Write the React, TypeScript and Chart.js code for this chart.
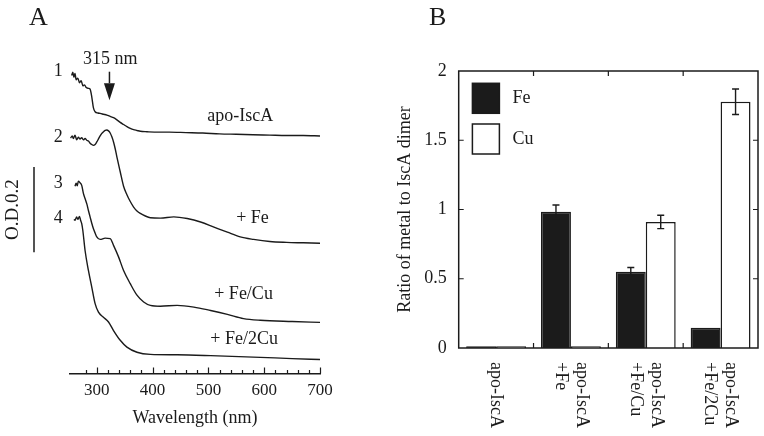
import React, { useEffect, useRef } from "react";
import { Chart, registerables } from "chart.js";

Chart.register(...registerables);

const SERIF = "'Liberation Serif', 'Times New Roman', Times, serif";
const INK = "#1b1b1b";

Chart.defaults.font.family = SERIF;
Chart.defaults.color = INK;

// ---------------- Panel A : UV-visible spectra ----------------
const WL_MIN = 252;
const WL_MAX = 700;
const WL_STEP = 20;
const WL_LABEL_STEP = 100;
const OD_MIN = 0;
const OD_MAX = 0.7835;

const APO_WL = [255, 257, 259, 261, 263, 266, 269, 272, 275, 278, 281, 285, 288, 291, 294, 297, 302, 306, 312, 318, 324, 330, 336, 342, 348, 354, 360, 366, 372, 378, 390, 410, 430, 460, 490, 520, 550, 580, 610, 640, 670, 700];
const APO_OD = [0.700, 0.708, 0.696, 0.705, 0.690, 0.694, 0.683, 0.688, 0.676, 0.678, 0.672, 0.670, 0.668, 0.650, 0.624, 0.615, 0.612, 0.611, 0.609, 0.607, 0.604, 0.601, 0.596, 0.590, 0.585, 0.580, 0.576, 0.573, 0.571, 0.569, 0.568, 0.567, 0.567, 0.566, 0.565, 0.563, 0.562, 0.561, 0.560, 0.559, 0.559, 0.558];

const FE_WL = [253, 256, 258, 261, 264, 267, 270, 273, 276, 279, 282, 285, 288, 291, 294, 297, 300, 303, 306, 309, 312, 315, 318, 321, 324, 327, 330, 333, 336, 342, 348, 354, 360, 366, 372, 378, 387, 396, 414, 438, 462, 486, 510, 534, 557, 581, 610, 640, 670, 700];
const FE_OD = [0.553, 0.558, 0.552, 0.560, 0.549, 0.555, 0.551, 0.554, 0.549, 0.552, 0.548, 0.546, 0.541, 0.538, 0.536, 0.538, 0.544, 0.551, 0.558, 0.564, 0.568, 0.571, 0.572, 0.570, 0.565, 0.556, 0.544, 0.528, 0.509, 0.474, 0.440, 0.420, 0.404, 0.391, 0.382, 0.376, 0.370, 0.366, 0.365, 0.368, 0.364, 0.356, 0.344, 0.332, 0.321, 0.315, 0.310, 0.308, 0.307, 0.306];

const FECU_WL = [261, 263, 265, 267, 270, 273, 276, 279, 282, 285, 288, 291, 294, 297, 300, 306, 315, 324, 330, 339, 348, 360, 372, 384, 396, 414, 444, 474, 504, 534, 563, 593, 650, 700];
const FECU_OD = [0.440, 0.447, 0.441, 0.452, 0.448, 0.442, 0.423, 0.411, 0.399, 0.383, 0.368, 0.353, 0.340, 0.330, 0.321, 0.315, 0.318, 0.317, 0.301, 0.274, 0.242, 0.211, 0.184, 0.168, 0.160, 0.158, 0.160, 0.156, 0.148, 0.139, 0.129, 0.125, 0.122, 0.120];

const FE2CU_WL = [259, 261, 264, 266, 269, 271, 273, 275, 279, 285, 291, 297, 303, 312, 321, 330, 342, 354, 372, 396, 444, 504, 593, 650, 700];
const FE2CU_OD = [0.362, 0.360, 0.368, 0.362, 0.369, 0.360, 0.352, 0.336, 0.289, 0.242, 0.203, 0.164, 0.144, 0.132, 0.121, 0.101, 0.078, 0.062, 0.050, 0.045, 0.044, 0.042, 0.038, 0.035, 0.033];

const TRACE_NUMBERS = ["1", "2", "3", "4"];
const TRACE_NUMBER_WL = 231;
const TRACE_NUMBER_OD = [0.711, 0.555, 0.447, 0.365];
const TRACE_NAMES = ["apo-IscA", "+ Fe", "+ Fe/Cu", "+ Fe/2Cu"];
const TRACE_NAME_WL = [557, 579, 563, 564];
const TRACE_NAME_OD = [0.605, 0.365, 0.186, 0.080];
const PEAK_LABEL = "315 nm";
const PEAK_LABEL_WL = 324;
const PEAK_LABEL_OD = 0.739;
const ARROW_WL = 322.7;
const ARROW_OD = [0.709, 0.682, 0.642]; // shaft top, head base, tip
const SCALE_BAR_OD = [0.285, 0.485];
const SCALE_BAR_LABEL = "O.D.0.2";
const X_TITLE_A = "Wavelength (nm)";

// ---------------- Panel B : metal content ----------------
const GROUPS = [["apo-IscA"], ["apo-IscA", "+Fe"], ["apo-IscA", "+Fe/Cu"], ["apo-IscA", "+Fe/2Cu"]];
const SERIES_NAMES = ["Fe", "Cu"];
const FE_RATIO = [0.012, 0.983, 0.551, 0.147];
const FE_ERR = [0, 0.05, 0.03, 0];
const CU_RATIO = [0.012, 0.012, 0.91, 1.778];
const CU_ERR = [0, 0, 0.048, 0.092];
const RATIO_MIN = 0;
const RATIO_MAX = 2;
const RATIO_STEP = 0.5;
const Y_TITLE_B = "Ratio of metal to IscA dimer";

const toPts = (xs: number[], ys: number[]) => xs.map((x, i) => ({ x, y: ys[i] }));

const annotA = {
  id: "annotA",
  afterDraw(chart: any) {
    const { ctx, chartArea: a, scales } = chart;
    const x = scales.x;
    const y = scales.y;
    ctx.save();
    ctx.fillStyle = INK;
    ctx.strokeStyle = INK;
    // inward x ticks
    ctx.lineWidth = 1.2;
    ctx.beginPath();
    x.ticks.forEach((t: any) => {
      if (Math.abs(t.value % WL_STEP) > 1e-6) return;
      const px = Math.round(x.getPixelForValue(t.value)) + 0.5;
      const len = t.value % WL_LABEL_STEP === 0 ? 6 : 3.5;
      ctx.moveTo(px, a.bottom);
      ctx.lineTo(px, a.bottom - len);
    });
    ctx.stroke();

    ctx.font = `18px ${SERIF}`;
    ctx.textBaseline = "middle";
    ctx.textAlign = "center";
    TRACE_NUMBERS.forEach((n, i) => {
      ctx.fillText(n, x.getPixelForValue(TRACE_NUMBER_WL), y.getPixelForValue(TRACE_NUMBER_OD[i]));
    });
    TRACE_NAMES.forEach((n, i) => {
      ctx.fillText(n, x.getPixelForValue(TRACE_NAME_WL[i]), y.getPixelForValue(TRACE_NAME_OD[i]));
    });
    ctx.fillText(PEAK_LABEL, x.getPixelForValue(PEAK_LABEL_WL), y.getPixelForValue(PEAK_LABEL_OD));

    // arrow
    const ax = x.getPixelForValue(ARROW_WL);
    ctx.lineWidth = 1.5;
    ctx.beginPath();
    ctx.moveTo(ax, y.getPixelForValue(ARROW_OD[0]));
    ctx.lineTo(ax, y.getPixelForValue(ARROW_OD[1]));
    ctx.stroke();
    ctx.beginPath();
    ctx.moveTo(ax - 5.5, y.getPixelForValue(ARROW_OD[1]));
    ctx.lineTo(ax + 5.5, y.getPixelForValue(ARROW_OD[1]));
    ctx.lineTo(ax, y.getPixelForValue(ARROW_OD[2]));
    ctx.closePath();
    ctx.fill();

    // scale bar
    const sx = a.left - 36;
    const sy0 = y.getPixelForValue(SCALE_BAR_OD[0]);
    const sy1 = y.getPixelForValue(SCALE_BAR_OD[1]);
    ctx.lineWidth = 1.5;
    ctx.beginPath();
    ctx.moveTo(sx, sy0);
    ctx.lineTo(sx, sy1);
    ctx.stroke();
    ctx.save();
    ctx.translate(sx - 20.5, (sy0 + sy1) / 2);
    ctx.rotate(-Math.PI / 2);
    ctx.font = `19px ${SERIF}`;
    ctx.fillText(SCALE_BAR_LABEL, 0, 0);
    ctx.restore();

    // panel letter
    ctx.font = `26px ${SERIF}`;
    ctx.textAlign = "left";
    ctx.textBaseline = "alphabetic";
    ctx.fillText("A", 29, 25);
    ctx.restore();
  },
};

const decorB = {
  id: "decorB",
  afterDatasetsDraw(chart: any) {
    const { ctx, chartArea: a, scales } = chart;
    const x = scales.x;
    const y = scales.y;
    const errs = [FE_ERR, CU_ERR];
    ctx.save();
    ctx.strokeStyle = INK;
    ctx.fillStyle = INK;
    // error bars
    chart.data.datasets.forEach((ds: any, d: number) => {
      const meta = chart.getDatasetMeta(d);
      meta.data.forEach((bar: any, i: number) => {
        const e = errs[d][i];
        if (!e) return;
        const v = ds.data[i];
        const xc = bar.x;
        const yt = y.getPixelForValue(v + e);
        const yb = y.getPixelForValue(v - e);
        ctx.lineWidth = 1.4;
        ctx.beginPath();
        ctx.moveTo(xc, yt);
        ctx.lineTo(xc, yb);
        ctx.moveTo(xc - 3.5, yt);
        ctx.lineTo(xc + 3.5, yt);
        ctx.moveTo(xc - 3.5, yb);
        ctx.lineTo(xc + 3.5, yb);
        ctx.stroke();
      });
    });
    // frame
    ctx.lineWidth = 1.5;
    ctx.strokeRect(a.left, a.top, a.right - a.left, a.bottom - a.top);
    // inward ticks
    ctx.lineWidth = 1.2;
    ctx.beginPath();
    y.ticks.forEach((t: any) => {
      if (t.value <= RATIO_MIN || t.value >= RATIO_MAX) return;
      const py = y.getPixelForValue(t.value);
      ctx.moveTo(a.left, py);
      ctx.lineTo(a.left + 5, py);
      ctx.moveTo(a.right, py);
      ctx.lineTo(a.right - 5, py);
    });
    for (let i = 0; i < GROUPS.length - 1; i++) {
      const px = (x.getPixelForValue(i) + x.getPixelForValue(i + 1)) / 2;
      ctx.moveTo(px, a.top);
      ctx.lineTo(px, a.top + 5);
      ctx.moveTo(px, a.bottom);
      ctx.lineTo(px, a.bottom - 5);
    }
    ctx.stroke();

    // legend
    chart.data.datasets.forEach((ds: any, d: number) => {
      const bx = a.left + 13.7;
      const by = a.top + 12.3 + d * 40.7;
      ctx.fillStyle = ds.backgroundColor;
      ctx.fillRect(bx, by, 27, 30);
      ctx.lineWidth = 1.5;
      ctx.strokeStyle = INK;
      ctx.strokeRect(bx, by, 27, 30);
      ctx.fillStyle = INK;
      ctx.font = `18px ${SERIF}`;
      ctx.textAlign = "left";
      ctx.textBaseline = "middle";
      ctx.fillText(ds.label, a.left + 53.7, by + 15);
    });

    // rotated category labels
    ctx.fillStyle = INK;
    ctx.font = `18px ${SERIF}`;
    ctx.textAlign = "left";
    ctx.textBaseline = "middle";
    const lh = 21;
    (chart.data.labels as string[][]).forEach((lines, i) => {
      const cx = x.getPixelForValue(i);
      ctx.save();
      ctx.translate(cx, a.bottom + 14);
      ctx.rotate(Math.PI / 2);
      const off = ((lines.length - 1) * lh) / 2;
      lines.forEach((ln, j) => {
        ctx.fillText(ln, 0, -off + j * lh);
      });
      ctx.restore();
    });

    ctx.font = `26px ${SERIF}`;
    ctx.textBaseline = "alphabetic";
    ctx.fillText("B", 49, 25);
    ctx.restore();
  },
};

export default function App() {
  const refA = useRef<HTMLCanvasElement | null>(null);
  const refB = useRef<HTMLCanvasElement | null>(null);

  useEffect(() => {
    const lineDs = (xs: number[], ys: number[], label: string) => ({
      label,
      data: toPts(xs, ys),
      borderColor: INK,
      borderWidth: 1.4,
      pointRadius: 0,
      fill: false,
      cubicInterpolationMode: "monotone" as const,
    });
    const chartA = new Chart(refA.current as HTMLCanvasElement, {
      type: "line",
      data: {
        datasets: [
          lineDs(APO_WL, APO_OD, TRACE_NAMES[0]),
          lineDs(FE_WL, FE_OD, TRACE_NAMES[1]),
          lineDs(FECU_WL, FECU_OD, TRACE_NAMES[2]),
          lineDs(FE2CU_WL, FE2CU_OD, TRACE_NAMES[3]),
        ],
      },
      options: {
        animation: false,
        responsive: false,
        maintainAspectRatio: false,
        layout: { padding: { left: 70, right: 60, top: 40, bottom: 6.5 } },
        plugins: { legend: { display: false }, tooltip: { enabled: false } },
        scales: {
          x: {
            type: "linear",
            min: WL_MIN,
            max: WL_MAX,
            grid: { display: false, drawTicks: false },
            border: { display: true, color: INK, width: 1.5 },
            ticks: {
              stepSize: WL_STEP,
              autoSkip: false,
              maxRotation: 0,
              padding: 7,
              color: INK,
              font: { family: SERIF, size: 17 },
              callback: (v: any) => (Number(v) % WL_LABEL_STEP === 0 ? String(v) : ""),
            },
            title: {
              display: true,
              text: X_TITLE_A,
              color: INK,
              font: { family: SERIF, size: 18 },
              padding: { top: 0, bottom: 0 },
            },
          },
          y: { type: "linear", display: false, min: OD_MIN, max: OD_MAX },
        },
      },
      plugins: [annotA],
    } as any);

    const chartB = new Chart(refB.current as HTMLCanvasElement, {
      type: "bar",
      data: {
        labels: GROUPS,
        datasets: [
          { label: SERIES_NAMES[0], data: FE_RATIO, backgroundColor: INK, borderColor: INK, borderWidth: 1.5 },
          { label: SERIES_NAMES[1], data: CU_RATIO, backgroundColor: "#ffffff", borderColor: INK, borderWidth: 1.5 },
        ],
      },
      options: {
        animation: false,
        responsive: false,
        maintainAspectRatio: false,
        layout: { padding: { left: 17.8, right: 6, top: 71, bottom: 88 } },
        datasets: { bar: { categoryPercentage: 0.8, barPercentage: 1 } },
        plugins: { legend: { display: false }, tooltip: { enabled: false } },
        scales: {
          x: { display: false },
          y: {
            min: RATIO_MIN,
            max: RATIO_MAX,
            grid: { display: false, drawTicks: false },
            border: { display: false },
            ticks: {
              stepSize: RATIO_STEP,
              padding: 12,
              color: INK,
              font: { family: SERIF, size: 18 },
              callback: (v: any) => String(Number(v)),
            },
            title: {
              display: true,
              text: Y_TITLE_B,
              color: INK,
              font: { family: SERIF, size: 18, lineHeight: 0.8 },
              padding: { top: 0, bottom: 0 },
            },
          },
        },
      },
      plugins: [decorB],
    } as any);

    return () => {
      chartA.destroy();
      chartB.destroy();
    };
  }, []);

  return (
    <div style={{ position: "absolute", left: 0, top: 0, width: 764, height: 436, background: "#ffffff", overflow: "hidden" }}>
      <canvas ref={refA} width={380} height={436} style={{ position: "absolute", left: 0, top: 0, width: 380, height: 436 }} />
      <canvas ref={refB} width={384} height={436} style={{ position: "absolute", left: 380, top: 0, width: 384, height: 436 }} />
    </div>
  );
}
